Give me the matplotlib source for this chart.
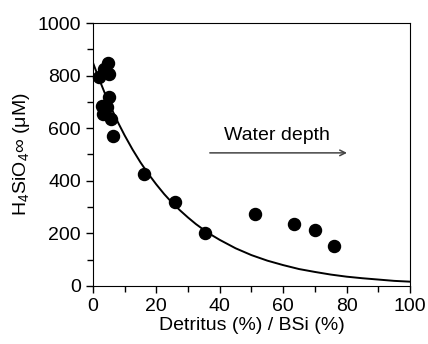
import matplotlib
matplotlib.use('Agg')
import matplotlib.pyplot as plt
from matplotlib.ticker import MultipleLocator

plt.rcParams['font.family'] = ['Liberation Sans', 'DejaVu Sans']
plt.rcParams['mathtext.fontset'] = 'custom'
plt.rcParams['mathtext.rm'] = 'Liberation Sans'
plt.rcParams['mathtext.it'] = 'Liberation Sans:italic'

# Measured points (detritus/BSi ratio vs asymptotic silicic acid)
ratio = [4.7, 3.5, 5.2, 1.9, 5.0, 3.0, 4.4, 3.2, 5.6, 6.5, 16, 26, 35.5, 51, 63.5, 70, 76]
h4sio4 = [848, 825, 805, 795, 718, 685, 680, 655, 635, 570, 425, 318, 200, 275, 235, 212, 150]

# Model curve
curve_x = [0, 2, 4, 6, 8, 10, 12.5, 15, 17.5, 20, 22.5, 25, 27.5, 30, 32.5, 35, 37.5, 40,
           45, 50, 55, 60, 65, 70, 75, 80, 85, 90, 95, 100]
curve_y = [850, 786, 726, 671, 620, 573, 519, 470, 426, 386, 349, 316, 287, 260, 235,
           213, 193, 175, 143, 117, 96, 79, 64, 53, 43, 35, 29, 24, 19, 16]

fig = plt.figure(figsize=(4.28, 3.44), dpi=100)
ax = fig.add_axes([0.217, 0.169, 0.741, 0.764])

ax.plot(curve_x, curve_y, color='black', linewidth=1.4)
ax.scatter(ratio, h4sio4, s=75, color='black', zorder=3, clip_on=False)

ax.annotate('', xy=(81, 506), xytext=(36, 506),
            arrowprops=dict(arrowstyle='->', color='#444444', lw=1.1))
ax.text(58, 540, 'Water depth', fontsize=14, ha='center', va='bottom')

ax.set_xlim(0, 100)
ax.set_ylim(0, 1000)
ax.xaxis.set_major_locator(MultipleLocator(20))
ax.xaxis.set_minor_locator(MultipleLocator(10))
ax.yaxis.set_major_locator(MultipleLocator(200))
ax.yaxis.set_minor_locator(MultipleLocator(100))
ax.tick_params(which='both', direction='out', labelsize=14, width=1)
ax.tick_params(which='major', length=5)
ax.tick_params(which='minor', length=4)

ax.set_xlabel('Detritus (%) / BSi (%)', fontsize=14, labelpad=2)
ax.set_ylabel(r'H$_4$SiO$_4$∞ (μM)', fontsize=14, labelpad=4)

fig.savefig('out.png', dpi=100)
